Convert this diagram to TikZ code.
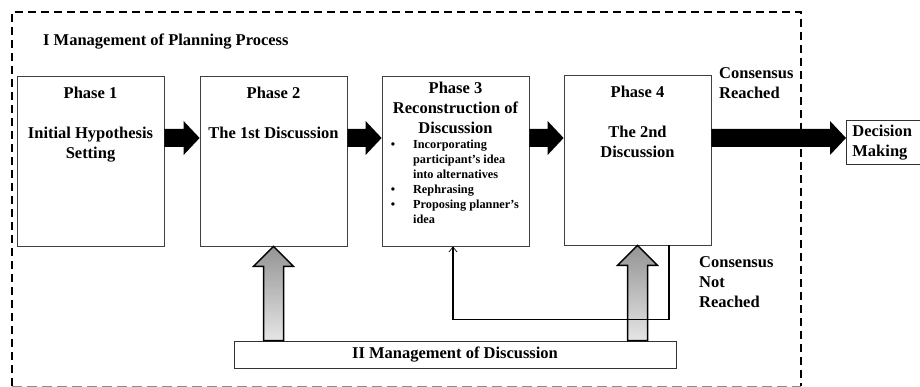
\documentclass[tikz,border=0pt]{standalone}
\usepackage{fontspec}
\setmainfont{Liberation Serif}
\usetikzlibrary{arrows,arrows.meta,calc,positioning}
\tikzset{
	mainfont/.style={font=\bfseries\fontsize{16.5}{20}\selectfont},
	outerframe/.style={draw=black, line width=2pt, dash pattern=on 8pt off 5pt},
	innerframe/.style={draw=black!45, line width=1pt, dash pattern=on 10pt off 5pt},
	phasebox/.style={draw=black!75, line width=0.8pt, minimum width=147pt, minimum height=170pt},
	phasetext/.style={mainfont, anchor=north, align=center, inner sep=0pt},
	sidetext/.style={mainfont, anchor=north west, align=left, inner sep=0pt},
	bulletlist/.style={anchor=north west, inner sep=0pt, font=\bfseries\fontsize{12.3}{15}\selectfont},
	decisionbox/.style={mainfont, draw=black!80, line width=0.8pt, anchor=north west, align=left,
			text width=110pt, inner xsep=6pt, minimum height=44pt},
	mgmtbox/.style={mainfont, draw=black!80, line width=0.8pt, minimum width=442pt, minimum height=27pt},
	liftstyle/.style={draw=black, line width=1.5pt, top color=black!42, bottom color=black!10},
	loopline/.style={draw=black, line width=1.2pt}
}
\newcommand{\fatarrow}[2]{\fill[black] ($(#1)+(0,-9)$) -- ($(#2)+(-16,-9)$) -- ($(#2)+(-16,-17)$) -- (#2)
	-- ($(#2)+(-16,17)$) -- ($(#2)+(-16,9)$) -- ($(#1)+(0,9)$) -- cycle;}
\newcommand{\liftarrow}[2]{\shadedraw[liftstyle] ($(#1)+(-10,0)$) -- ($(#2)+(-10,20)$) -- ($(#2)+(-20,20)$) -- (#2)
	-- ($(#2)+(20,20)$) -- ($(#2)+(10,20)$) -- ($(#1)+(10,0)$) -- cycle;}

\begin{document}
\begin{tikzpicture}[x=1pt, y=-1pt]
	\useasboundingbox (0,0) rectangle (920,387);
	\draw[outerframe] (12,386) -- (12,12) -- (801,12) -- (801,386);
	\draw[innerframe] (12,386) -- (801,386);
	\node[mainfont, anchor=base west, inner sep=0pt] (title) at (43,45.6) {I Management of Planning Process};

	\node[phasebox] (p1) at (90.5,161) {};
	\node[phasebox] (p2) at (273.5,161) {};
	\node[phasebox] (p3) at (455.5,161) {};
	\node[phasebox] (p4) at (637.5,160) {};
	\node[phasetext] (t1) at ($(p1.north)+(0,11)$) {Phase 1\\[20pt]Initial Hypothesis\\Setting};
	\node[phasetext] (t2) at ($(p2.north)+(0,11)$) {Phase 2\\[20pt]The 1st Discussion};
	\node[phasetext] (t3) at ($(p3.north)+(0,6)$) {Phase 3\\Reconstruction of\\Discussion};
	\node[bulletlist] (b3) at ($(p3.north west)+(9,62.5)$) {%
		\begin{tabular}{@{}l@{\hspace{18pt}}l@{}}
			\textbullet & Incorporating      \\
			            & participant's idea \\
			            & into alternatives  \\
			\textbullet & Rephrasing         \\
			\textbullet & Proposing planner's \\
			            & idea
		\end{tabular}};
	\node[phasetext] (t4) at ($(p4.north)+(0,11)$) {Phase 4\\[20pt]The 2nd\\Discussion};

	\node[decisionbox] (dm) at (846,120) {Decision\\Making};
	\node[mgmtbox] (md) at (455,354.5) {II Management of Discussion};
	\node[sidetext] (cr) at (719,67.4) {Consensus\\Reached};
	\node[sidetext] (cn) at (699,256.4) {Consensus\\Not\\Reached};

	\coordinate (a1) at ($(p1.east)+(0,-23)$);
	\coordinate (a2) at ($(p2.east)+(0,-23)$);
	\coordinate (a3) at ($(p3.east)+(0,-23)$);
	\coordinate (a4) at ($(p4.east)+(0,-22)$);
	\coordinate (b1) at (a1 -| p2.west);
	\coordinate (b2) at (a2 -| p3.west);
	\coordinate (b3) at (a3 -| p4.west);
	\coordinate (b4) at (a4 -| dm.west);
	\fatarrow{a1}{b1}
	\fatarrow{a2}{b2}
	\fatarrow{a3}{b3}
	\fatarrow{a4}{b4}

	\coordinate (u2) at (md.north -| p2.south);
	\coordinate (u4) at (md.north -| p4.south);
	\liftarrow{u2}{p2.south}
	\liftarrow{u4}{p4.south}

	\draw[loopline, -{Straight Barb[length=5pt, width=8pt, line width=0.7pt]}] ($(p4.south)+(31.5,0)$) -- ++(0,74) -| ($(p3.south)+(-2.5,0)$);
\end{tikzpicture}
\end{document}
